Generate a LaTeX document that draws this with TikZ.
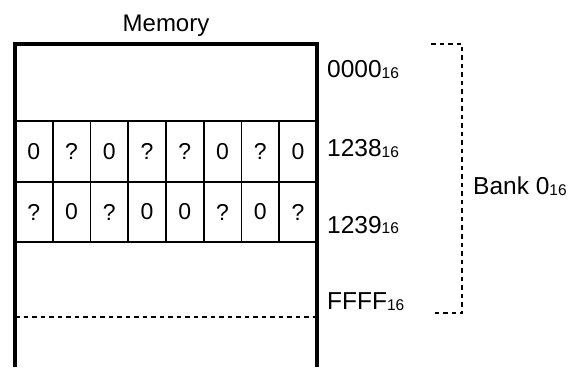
\documentclass[tikz,border=0pt]{standalone}
\usepackage{fontspec}
\setmainfont{Liberation Sans}
\usepackage{tikz}
\usetikzlibrary{positioning}
\newcommand{\hexsub}[1]{#1{\fontsize{15.5}{15.5}\selectfont\raisebox{-1pt}{16}}}
\tikzset{
  cell/.style={rectangle, draw, line width=1.6pt, minimum width=37.75pt,
               inner sep=0pt, font=\fontsize{23}{27}\selectfont},
  addr/.style={anchor=base west, inner sep=0pt, font=\fontsize{24.5}{28}\selectfont},
  outer/.style={line width=3.2pt},
  dashline/.style={line width=1.8pt, dash pattern=on 4.5pt off 4pt},
}
\begin{document}
\begin{tikzpicture}[x=1pt, y=1pt]
  \useasboundingbox (0,0) rectangle (575,367);
  \foreach \v [count=\i] in {0,?,0,?,?,0,?,0}
    \node[cell, minimum height=61pt] (hi\i) at (15+37.75*\i-18.875,215.5) {\v};
  \foreach \v [count=\i] in {?,0,?,0,0,?,0,?}
    \node[cell, minimum height=60pt] (lo\i) at (15+37.75*\i-18.875,155) {\v};
  \draw[outer] (15,0) -- (15,323) -- (317,323) -- (317,0);
  \draw[dashline] (15,50) -- (317,50);
  \node[anchor=base, inner sep=0pt, font=\fontsize{24}{28}\selectfont] (mem) at (166,335) {Memory};
  \node[addr] (a0000) at (327,289) {\hexsub{0000}};
  \node[addr] (a1238) at (327,210) {\hexsub{1238}};
  \node[addr] (a1239) at (327,134) {\hexsub{1239}};
  \node[addr] (affff) at (327,58)  {\hexsub{FFFF}};
  \draw[dashline] (431,323) -| (462,54) -- (435,54);
  \node[addr] (bank) at (473,172) {\hexsub{Bank 0}};
\end{tikzpicture}
\end{document}
